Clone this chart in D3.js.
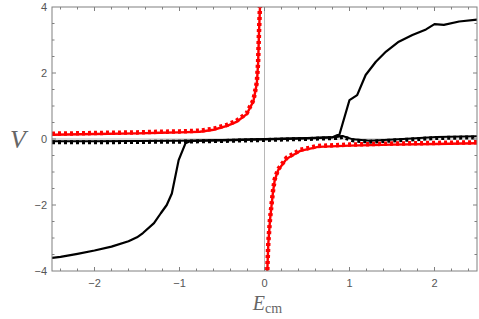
<!DOCTYPE html>
<html><head><meta charset="utf-8">
<script src="https://cdn.jsdelivr.net/npm/d3@7"></script>
<style>body{margin:0;background:#fff}svg{display:block}</style>
</head><body>
<script>
// Data
const solidX = [-2.5,-2.4,-2.2,-2.0,-1.8,-1.6,-1.5,-1.43,-1.3,-1.22,-1.15,-1.09,-1.01,-0.93,-0.87,-0.5,0,0.5,0.8,0.86,0.88,1.0,1.09,1.19,1.31,1.43,1.58,1.74,1.90,2.0,2.11,2.29,2.5];
const solidY = [-3.6,-3.57,-3.48,-3.38,-3.26,-3.1,-2.98,-2.85,-2.55,-2.25,-2.0,-1.65,-0.64,-0.13,-0.06,-0.04,-0.01,0.02,0.05,0.12,0.12,1.18,1.33,1.94,2.34,2.65,2.95,3.15,3.32,3.48,3.46,3.56,3.62];
const dashX = [-2.5,-2.0,-1.5,-1.0,-0.5,0,0.5,0.85,0.92,1.04,1.24,1.63,2.02,2.5];
const dashY = [-0.07,-0.07,-0.06,-0.05,-0.03,0,0.03,0.06,0.09,-0.01,-0.05,0.0,0.06,0.08];
const redLeftX = [-2.5,-2.0,-1.5,-1.23,-1.0,-0.76,-0.6,-0.44,-0.33,-0.21,-0.13,-0.09,-0.075,-0.065,-0.053];
const redLeftY = [0.13,0.15,0.17,0.19,0.2,0.22,0.28,0.4,0.52,0.75,1.15,1.69,2.3,3.2,4.0];
const redRightX = [0.033,0.045,0.065,0.10,0.12,0.16,0.26,0.42,0.63,1.0,1.5,2.0,2.5];
const redRightY = [-4.0,-3.16,-2.45,-1.6,-1.25,-0.95,-0.6,-0.36,-0.24,-0.2,-0.17,-0.15,-0.13];
const xTicks = [-2,-1,0,1,2];
const yTicks = [-4,-2,0,2,4];

const W = 479, H = 319;
const m = {left:52, right:2, top:7, bottom:48};
const svg = d3.select("body").append("svg").attr("width",W).attr("height",H);
const x = d3.scaleLinear().domain([-2.5,2.5]).range([m.left, W-m.right]);
const y = d3.scaleLinear().domain([-4,4]).range([H-m.bottom, m.top]);
const gray = "#808080", tcol = "#555";

const defs = svg.append("defs");
defs.append("clipPath").attr("id","clip").append("rect")
  .attr("x",m.left).attr("y",m.top).attr("width",W-m.left-m.right).attr("height",H-m.top-m.bottom);

// axis lines through origin
svg.append("line").attr("x1",x(0)).attr("x2",x(0)).attr("y1",y(-4)).attr("y2",y(4))
  .attr("stroke","#b8b8b8").attr("stroke-width",1);
svg.append("line").attr("x1",x(-2.5)).attr("x2",x(2.5)).attr("y1",y(0)).attr("y2",y(0))
  .attr("stroke","#b8b8b8").attr("stroke-width",1);

const line = (xs,ys)=> d3.line().x((d,i)=>x(xs[i])).y(d=>y(d))(ys);
const g = svg.append("g").attr("clip-path","url(#clip)");

// black dashed pair
g.append("path").attr("d",line(dashX,dashY)).attr("fill","none").attr("stroke","#000").attr("stroke-width",2);
g.append("path").attr("d",line(dashX,dashY)).attr("fill","none").attr("stroke","#000").attr("stroke-width",4)
  .attr("stroke-dasharray","3,3").attr("transform","translate(0,1)");
// black solid
g.append("path").attr("d",line(solidX,solidY)).attr("fill","none").attr("stroke","#000").attr("stroke-width",2.2)
  .attr("stroke-linejoin","round");
// red curves
[[redLeftX,redLeftY],[redRightX,redRightY]].forEach(([xs,ys])=>{
  g.append("path").attr("d",line(xs,ys)).attr("fill","none").attr("stroke","#f00").attr("stroke-width",2.4);
  g.append("path").attr("d",line(xs,ys)).attr("fill","none").attr("stroke","#f00").attr("stroke-width",4.5)
    .attr("stroke-dasharray","3,3").attr("transform","translate(0,-1)");
});

// frame
svg.append("rect").attr("x",m.left).attr("y",m.top).attr("width",W-m.left-m.right).attr("height",H-m.top-m.bottom)
  .attr("fill","none").attr("stroke",gray).attr("stroke-width",1);

// ticks
const xMinor = d3.range(-2.4,2.5,0.2).map(v=>+v.toFixed(2));
const yMinor = d3.range(-3.5,4,0.5);
const tk = svg.append("g").attr("stroke",gray).attr("stroke-width",1);
xMinor.forEach(v=>{
  const major = Math.abs(v-Math.round(v))<1e-6;
  const L = major?4:2.5;
  tk.append("line").attr("x1",x(v)).attr("x2",x(v)).attr("y1",y(-4)).attr("y2",y(-4)-L);
  tk.append("line").attr("x1",x(v)).attr("x2",x(v)).attr("y1",y(4)).attr("y2",y(4)+L);
});
yMinor.forEach(v=>{
  const major = Math.abs(v/2-Math.round(v/2))<1e-6;
  const L = major?4:2.5;
  tk.append("line").attr("y1",y(v)).attr("y2",y(v)).attr("x1",x(-2.5)).attr("x2",x(-2.5)+L);
  tk.append("line").attr("y1",y(v)).attr("y2",y(v)).attr("x1",x(2.5)).attr("x2",x(2.5)-L);
});

// tick labels
const fmt = v => v<0 ? "\u2212"+Math.abs(v) : String(v);
svg.append("g").selectAll("text").data(xTicks).join("text")
  .attr("x",d=>x(d)).attr("y",y(-4)+16).attr("text-anchor","middle")
  .attr("font-family","Liberation Sans, Arial, sans-serif").attr("font-size",11).attr("fill",tcol).text(fmt);
svg.append("g").selectAll("text").data(yTicks).join("text")
  .attr("x",m.left-5).attr("y",d=>y(d)+4).attr("text-anchor","end")
  .attr("font-family","Liberation Sans, Arial, sans-serif").attr("font-size",11).attr("fill",tcol).text(fmt);

// axis labels
svg.append("text").attr("x",10).attr("y",148).attr("font-family","Liberation Serif, Times New Roman, serif")
  .attr("font-style","italic").attr("font-size",26).attr("fill","#666").text("V");
const xl = svg.append("text").attr("x",x(0)+3).attr("y",310).attr("text-anchor","middle")
  .attr("font-family","Liberation Serif, Times New Roman, serif").attr("fill","#666");
xl.append("tspan").attr("font-style","italic").attr("font-size",20).text("E");
xl.append("tspan").attr("font-size",14).attr("dy",3).text("cm");
</script>
</body></html>
